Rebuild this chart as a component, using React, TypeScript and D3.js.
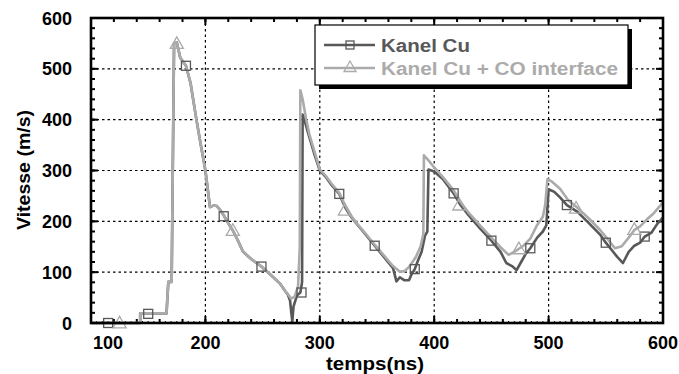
import React from "react";
import * as d3 from "d3";

const xTicks = [100, 200, 300, 400, 500, 600];
const yTicks = [0, 100, 200, 300, 400, 500, 600];
const seriesNames = ["Kanel Cu", "Kanel Cu + CO interface"];

const commonStart: [number, number][] = [
  [100, 0], [143, 0], [143, 19], [166, 19], [167.6, 81], [170.5, 81], [172.6, 550], [175, 552],
  [178, 522], [183, 506], [187, 472], [192, 402], [196, 350], [200, 300], [204, 228], [207, 231],
  [210, 230], [213, 222], [216.5, 210], [220, 196], [224, 182], [228, 164], [233, 140], [240, 126],
  [249, 111], [257, 95], [265, 78], [270, 62],
];

const kanelCu: [number, number][] = [
  ...commonStart,
  [272, 56], [274, 44], [275, 22], [276, 3], [277, 32], [280, 54], [283, 60], [284.5, 80],
  [285, 410], [287, 396], [290, 372], [295, 334], [300, 300], [305, 288], [310, 272], [317, 254],
  [322, 228], [327, 210], [332, 196], [340, 174], [348, 152], [356, 130], [364, 108], [367, 82],
  [370, 90], [374, 84], [378, 84], [380, 95], [383, 106], [386, 124], [389, 140], [392, 172],
  [394, 180], [395, 302], [400, 298], [408, 282], [417, 255], [423, 232], [430, 212], [440, 186],
  [450, 162], [458, 140], [463, 118], [468, 112], [472, 104], [476, 120], [480, 136], [484, 147],
  [490, 168], [495, 180], [498, 192], [500, 263], [505, 258], [510, 247], [516, 232], [525, 219],
  [535, 197], [545, 174], [550, 158], [555, 144], [560, 130], [565, 118], [570, 140], [575, 152],
  [580, 158], [584, 170], [590, 178], [595, 195], [600, 208],
];

const kanelCuCO: [number, number][] = [
  ...commonStart,
  [272, 57], [275, 48], [278, 52], [281, 72], [282.5, 150], [283, 458], [285, 440], [288, 402],
  [291, 370], [295, 340], [300, 302], [305, 290], [310, 275], [317, 256], [322, 232], [327, 212],
  [332, 197], [340, 176], [348, 154], [356, 133], [364, 112], [370, 101], [374, 102], [378, 110],
  [384, 130], [388, 150], [390.5, 175], [391, 330], [395, 320], [400, 306], [408, 286], [417, 261],
  [423, 238], [430, 217], [440, 192], [450, 168], [458, 149], [465, 134], [470, 140], [478, 152],
  [484, 166], [490, 193], [495, 209], [497, 232], [499, 283], [503, 278], [510, 264], [517, 242],
  [525, 227], [535, 206], [545, 183], [552, 164], [558, 147], [564, 151], [570, 168], [575, 183],
  [580, 190], [586, 204], [592, 216], [598, 232], [600, 238],
];

const squareMarkers: [number, number][] = [
  [115, 0], [150, 18], [183, 506], [216, 210], [249, 111], [284, 60], [317, 254], [348, 152],
  [383, 106], [417, 255], [450, 162], [484, 147], [516, 232], [550, 158], [584, 170],
];

const triangleMarkers: [number, number][] = [
  [125, 0], [175, 550], [224, 182], [322, 222], [422, 232], [474, 146], [524, 226], [575, 184],
];

const W = 679;
const H = 374;
const left = 91, right = 663, top = 18, bottom = 323;
const darkColor = "#585858";
const lightColor = "#ababab";
const font = "'Liberation Sans', Arial, sans-serif";

export default function App() {
  const x = d3.scaleLinear().domain([100, 600]).range([left, right]);
  const y = d3.scaleLinear().domain([0, 600]).range([bottom, top]);
  const line = d3.line<[number, number]>().x((d) => x(d[0])).y((d) => y(d[1]));

  const xMinor = d3.range(100, 601, 20);
  const yMinor = d3.range(0, 601, 20);
  const xTiny = d3.range(100, 601, 5);

  const sq = (cx: number, cy: number, s: number, key: any, color: string) => (
    <rect key={key} x={cx - s / 2} y={cy - s / 2} width={s} height={s} fill="none" stroke={color} strokeWidth={1.3} />
  );
  const tri = (cx: number, cy: number, s: number, key: any, color: string) => (
    <path
      key={key}
      d={`M${cx},${cy - s * 0.6} L${cx + s * 0.6},${cy + s * 0.45} L${cx - s * 0.6},${cy + s * 0.45} Z`}
      fill="none"
      stroke={color}
      strokeWidth={1.3}
    />
  );

  const lx0 = 315, ly0 = 25, lw = 313, lh = 60;

  return (
    <svg width={W} height={H} style={{ position: "absolute", left: 0, top: 0, background: "#fff" }} fontFamily={font}>
      <rect x={0} y={0} width={W} height={H} fill="#fff" />
      {/* grid */}
      {xTicks.slice(1, -1).map((t) => (
        <line key={"gx" + t} x1={x(t)} x2={x(t)} y1={top} y2={bottom} stroke="#000" strokeWidth={1.2} strokeDasharray="2.5,3" />
      ))}
      {yTicks.slice(1, -1).map((t) => (
        <line key={"gy" + t} x1={left} x2={right} y1={y(t)} y2={y(t)} stroke="#000" strokeWidth={1.2} strokeDasharray="2.5,3" />
      ))}
      {/* minor ticks */}
      {xTiny.map((t) => (
        <g key={"xt" + t}>
          <line x1={x(t)} x2={x(t)} y1={bottom} y2={bottom - 2} stroke="#000" strokeWidth={1} />
        </g>
      ))}
      {xMinor.map((t) => (
        <g key={"xm" + t}>
          <line x1={x(t)} x2={x(t)} y1={bottom} y2={bottom - 4} stroke="#000" strokeWidth={2} />
          <line x1={x(t)} x2={x(t)} y1={top} y2={top + 4} stroke="#000" strokeWidth={2} />
        </g>
      ))}
      {yMinor.map((t) => (
        <g key={"ym" + t}>
          <line x1={left} x2={left + 4} y1={y(t)} y2={y(t)} stroke="#000" strokeWidth={2} />
          <line x1={right} x2={right - 4} y1={y(t)} y2={y(t)} stroke="#000" strokeWidth={2} />
        </g>
      ))}
      {xTicks.map((t) => (
        <g key={"xM" + t}>
          <line x1={x(t)} x2={x(t)} y1={bottom} y2={bottom - 7} stroke="#000" strokeWidth={2} />
          <line x1={x(t)} x2={x(t)} y1={top} y2={top + 7} stroke="#000" strokeWidth={2} />
        </g>
      ))}
      {yTicks.map((t) => (
        <g key={"yM" + t}>
          <line x1={left} x2={left + 7} y1={y(t)} y2={y(t)} stroke="#000" strokeWidth={2} />
          <line x1={right} x2={right - 7} y1={y(t)} y2={y(t)} stroke="#000" strokeWidth={2} />
        </g>
      ))}
      {/* series */}
      <path d={line(kanelCu) || ""} fill="none" stroke={darkColor} strokeWidth={2.6} strokeLinejoin="round" />
      <path d={line(kanelCuCO) || ""} fill="none" stroke={lightColor} strokeWidth={2.6} strokeLinejoin="round" />
      {squareMarkers.map((d, i) => sq(x(d[0]), y(d[1]), 9, "s" + i, darkColor))}
      {triangleMarkers.map((d, i) => tri(x(d[0]), y(d[1]), 11, "t" + i, lightColor))}
      {/* frame */}
      <rect x={left} y={top} width={right - left} height={bottom - top} fill="none" stroke="#000" strokeWidth={2.6} />
      {/* tick labels */}
      {xTicks.map((t, i) => (
        <text key={"xl" + t} x={i === 0 ? x(t) + 17 : x(t)} y={349} textAnchor="middle" fontSize={18} fontWeight="bold" fill="#000">
          {t}
        </text>
      ))}
      {yTicks.map((t) => (
        <text key={"yl" + t} x={72} y={y(t) + 6.5} textAnchor="end" fontSize={18} fontWeight="bold" fill="#000">
          {t}
        </text>
      ))}
      <text x={375} y={370} textAnchor="middle" fontSize={18} fontWeight="bold" fill="#000" textLength={98} lengthAdjust="spacingAndGlyphs">
        temps(ns)
      </text>
      <text transform={`translate(30,170) rotate(-90)`} textAnchor="middle" fontSize={18} fontWeight="bold" fill="#000" textLength={120} lengthAdjust="spacingAndGlyphs">
        Vitesse (m/s)
      </text>
      {/* legend */}
      <rect x={lx0 + 4} y={ly0 + 4} width={lw} height={lh} fill="#000" />
      <rect x={lx0} y={ly0} width={lw} height={lh} fill="#fff" stroke="#000" strokeWidth={1.2} />
      <line x1={lx0 + 9} x2={lx0 + 60} y1={ly0 + 20} y2={ly0 + 20} stroke={darkColor} strokeWidth={2.6} />
      {sq(lx0 + 35, ly0 + 20, 8, "ls", darkColor)}
      <text x={lx0 + 66} y={ly0 + 26.5} fontSize={18} fontWeight="bold" fill={darkColor} textLength={89} lengthAdjust="spacingAndGlyphs">
        {seriesNames[0]}
      </text>
      <line x1={lx0 + 9} x2={lx0 + 60} y1={ly0 + 43} y2={ly0 + 43} stroke={lightColor} strokeWidth={2.6} />
      {tri(lx0 + 35, ly0 + 42, 10, "lt", lightColor)}
      <text x={lx0 + 66} y={ly0 + 49.5} fontSize={18} fontWeight="bold" fill={lightColor} textLength={237} lengthAdjust="spacingAndGlyphs">
        {seriesNames[1]}
      </text>
    </svg>
  );
}
